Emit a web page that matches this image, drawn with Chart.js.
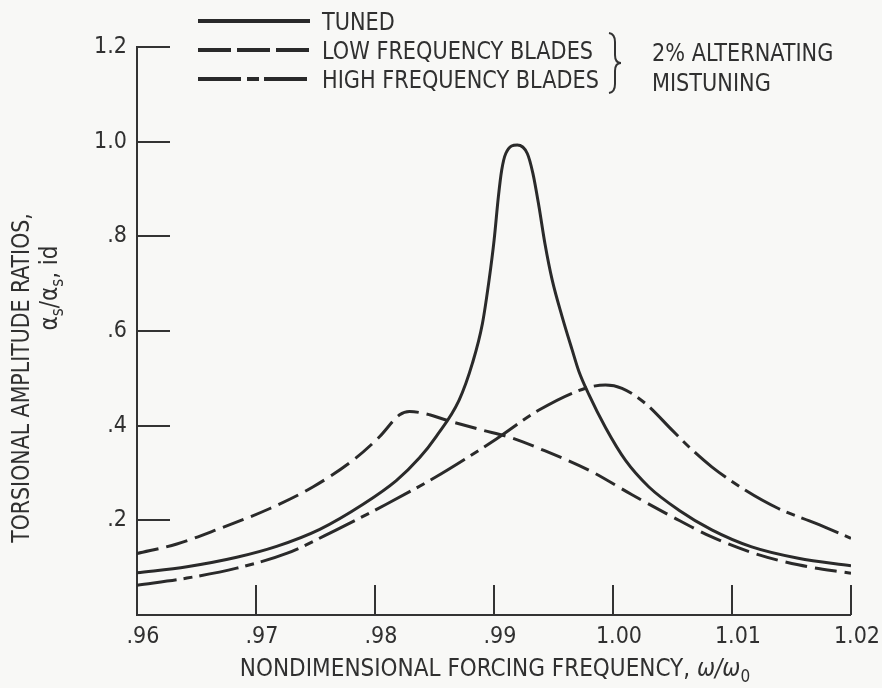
<!DOCTYPE html>
<html><head><meta charset="utf-8">
<script src="https://cdn.jsdelivr.net/npm/chart.js@4"></script>
<style>html,body{margin:0;padding:0;background:#f8f8f6;} canvas{display:block;}</style>
</head><body>
<canvas id="c" width="882" height="688"></canvas>
<script>
// ---- data ----
const tunedX = [0.96, 0.9642, 0.96838, 0.97173, 0.97536, 0.979, 0.98179, 0.98374, 0.98514, 0.98707, 0.98819, 0.98903, 0.98959, 0.99001, 0.99037, 0.99065, 0.99099, 0.99196, 0.9928, 0.99327, 0.99378, 0.99428, 0.99489, 0.99573, 0.99657, 0.99713, 0.99797, 0.99937, 1.00104, 1.003, 1.00551, 1.0083, 1.01166, 1.01557, 1.02];
const tunedY = [0.089, 0.102, 0.122, 0.145, 0.181, 0.234, 0.284, 0.332, 0.377, 0.454, 0.532, 0.616, 0.708, 0.792, 0.884, 0.940, 0.975, 0.993, 0.975, 0.933, 0.863, 0.785, 0.708, 0.630, 0.560, 0.515, 0.466, 0.396, 0.327, 0.271, 0.222, 0.180, 0.144, 0.120, 0.104];
const lowX = [0.96, 0.96335, 0.96698, 0.97117, 0.97481, 0.97816, 0.9804, 0.98207, 0.9829, 0.98459, 0.9857, 0.9888, 0.9915, 0.99378, 0.99797, 1.0016, 1.00495, 1.0083, 1.0119, 1.01557, 1.02];
const lowY = [0.130, 0.150, 0.183, 0.225, 0.271, 0.327, 0.377, 0.423, 0.430, 0.423, 0.414, 0.392, 0.374, 0.352, 0.306, 0.254, 0.208, 0.165, 0.130, 0.106, 0.088];
const highX = [0.96, 0.9642, 0.96838, 0.97257, 0.97676, 0.98095, 0.98514, 0.9878, 0.9902, 0.99378, 0.99769, 0.99937, 1.00076, 1.00272, 1.00495, 1.00635, 1.0083, 1.0111, 1.0139, 1.017, 1.02];
const highY = [0.063, 0.078, 0.099, 0.130, 0.180, 0.234, 0.292, 0.333, 0.372, 0.433, 0.479, 0.486, 0.479, 0.447, 0.391, 0.356, 0.313, 0.264, 0.225, 0.194, 0.162];

const xTickValues = [0.96, 0.97, 0.98, 0.99, 1.00, 1.01, 1.02];
const xTickLabels = ['.96', '.97', '.98', '.99', '1.00', '1.01', '1.02'];
const yTickValues = [0, 0.2, 0.4, 0.6, 0.8, 1.0, 1.2];
const yTickLabels = ['', '.2', '.4', '.6', '.8', '1.0', '1.2'];

const seriesNames = ['TUNED', 'LOW FREQUENCY BLADES', 'HIGH FREQUENCY BLADES'];
const noteLines = ['2% ALTERNATING', 'MISTUNING'];
const yTitleLine1 = 'TORSIONAL AMPLITUDE RATIOS,';
const xTitleText = 'NONDIMENSIONAL FORCING FREQUENCY, ';

// ---- styling ----
const FONT = '"DejaVu Sans Condensed","Liberation Sans Narrow",sans-serif';
const INK = '#2a2a2a';
const TXT = '#303030';

const pts = (xs, ys) => xs.map((x, i) => ({ x, y: ys[i] }));

// draw text with horizontal compression sx, anchored at left (x) on given baseline
function squeezeText(ctx, txt, x, y, sx) {
  ctx.save();
  ctx.translate(x, y);
  ctx.scale(sx, 1);
  ctx.fillText(txt, 0, 0);
  ctx.restore();
  return ctx.measureText(txt).width * sx;
}

const decor = {
  id: 'decor',
  afterDraw(chart) {
    const ctx = chart.ctx;
    const xs = chart.scales.x, ys = chart.scales.y;
    const area = chart.chartArea;
    ctx.save();
    // inner tick marks
    ctx.strokeStyle = '#333';
    ctx.lineWidth = 2;
    ctx.setLineDash([]);
    xTickValues.forEach((v, i) => {
      if (i === 0) return;
      const px = Math.round(xs.getPixelForValue(v));
      ctx.beginPath(); ctx.moveTo(px, area.bottom); ctx.lineTo(px, area.bottom - 30); ctx.stroke();
    });
    yTickValues.forEach((v, i) => {
      if (i === 0) return;
      const py = Math.round(ys.getPixelForValue(v));
      ctx.beginPath(); ctx.moveTo(area.left, py); ctx.lineTo(area.left + 33, py); ctx.stroke();
    });

    // legend
    const rows = [21, 50, 79];
    const legendDash = [[], [33, 6], [43, 6, 12, 5]];
    chart.data.datasets.forEach((ds, i) => {
      ctx.strokeStyle = INK; ctx.lineWidth = 4;
      ctx.setLineDash(legendDash[i]);
      ctx.beginPath(); ctx.moveTo(198, rows[i]); ctx.lineTo(310, rows[i]); ctx.stroke();
      ctx.setLineDash([]);
      ctx.fillStyle = TXT; ctx.font = '24px ' + FONT;
      ctx.textBaseline = 'alphabetic'; ctx.textAlign = 'left';
      squeezeText(ctx, ds.label, 322, rows[i] + 9, 0.965);
    });
    // brace
    ctx.strokeStyle = '#333'; ctx.lineWidth = 2;
    ctx.beginPath();
    ctx.moveTo(609, 33);
    ctx.quadraticCurveTo(615, 34, 615, 42);
    ctx.lineTo(615, 55);
    ctx.quadraticCurveTo(615, 63, 621, 63);
    ctx.quadraticCurveTo(615, 63, 615, 71);
    ctx.lineTo(615, 84);
    ctx.quadraticCurveTo(615, 92, 609, 93);
    ctx.stroke();
    ctx.fillStyle = TXT; ctx.font = '24px ' + FONT;
    squeezeText(ctx, noteLines[0], 652, 61, 0.965);
    squeezeText(ctx, noteLines[1], 652, 91, 0.965);

    // y-axis title
    ctx.save();
    ctx.translate(29, 378);
    ctx.rotate(-Math.PI / 2);
    ctx.textBaseline = 'alphabetic'; ctx.textAlign = 'left';
    ctx.font = '24px ' + FONT;
    const w1 = ctx.measureText(yTitleLine1).width * 0.95;
    squeezeText(ctx, yTitleLine1, -w1 / 2, 0, 0.95);
    ctx.restore();

    ctx.save();
    ctx.translate(57, 288);
    ctx.rotate(-Math.PI / 2);
    ctx.textBaseline = 'alphabetic'; ctx.textAlign = 'left';
    const big = '24px ' + FONT, small = '17px ' + FONT;
    const parts = [['α', big, 0], ['s', small, 6], ['/', big, 0], ['α', big, 0], ['s', small, 6], [', id', big, 0]];
    let w = 0;
    parts.forEach(p => { ctx.font = p[1]; w += ctx.measureText(p[0]).width; });
    let cx = -w / 2;
    parts.forEach(p => { ctx.font = p[1]; ctx.fillText(p[0], cx, p[2]); cx += ctx.measureText(p[0]).width; });
    ctx.restore();

    // x-axis title
    ctx.save();
    ctx.textBaseline = 'alphabetic'; ctx.textAlign = 'left';
    const xparts = [[xTitleText, '24px ' + FONT, 0], ['ω/ω', 'italic 24px ' + FONT, 0], ['0', '17px ' + FONT, 6]];
    let xw = 0;
    xparts.forEach(p => { ctx.font = p[1]; xw += ctx.measureText(p[0]).width; });
    let xx = 495 - xw / 2;
    xparts.forEach(p => { ctx.font = p[1]; ctx.fillText(p[0], xx, 676 + p[2]); xx += ctx.measureText(p[0]).width; });
    ctx.restore();

    ctx.restore();
  }
};

const lineBase = { borderColor: INK, borderWidth: 3, pointRadius: 0, fill: false, cubicInterpolationMode: 'monotone' };

new Chart(document.getElementById('c'), {
  type: 'line',
  data: {
    datasets: [
      Object.assign({ label: seriesNames[0], data: pts(tunedX, tunedY) }, lineBase),
      Object.assign({ label: seriesNames[1], data: pts(lowX, lowY), borderDash: [22, 8] }, lineBase),
      Object.assign({ label: seriesNames[2], data: pts(highX, highY), borderDash: [40, 7, 9, 7] }, lineBase)
    ]
  },
  options: {
    responsive: false, animation: false, devicePixelRatio: 1,
    layout: { padding: { top: 47, right: 30, left: 0, bottom: 0 } },
    plugins: { legend: { display: false }, tooltip: { enabled: false } },
    scales: {
      x: {
        type: 'linear', min: 0.96, max: 1.02,
        afterBuildTicks: s => { s.ticks = xTickValues.map(v => ({ value: v })); },
        ticks: { callback: (v, i) => xTickLabels[i], font: { family: FONT, size: 23 }, color: TXT, padding: 8, labelOffset: 6, maxRotation: 0, autoSkip: false },
        grid: { display: false, drawTicks: false },
        border: { display: true, color: '#333', width: 2 },
        afterFit: s => { s.height = 73; }
      },
      y: {
        type: 'linear', min: 0, max: 1.2,
        afterBuildTicks: s => { s.ticks = yTickValues.map(v => ({ value: v })); },
        ticks: { callback: (v, i) => yTickLabels[i], font: { family: FONT, size: 23 }, color: TXT, padding: 10, autoSkip: false },
        grid: { display: false, drawTicks: false },
        border: { display: true, color: '#333', width: 2 },
        afterFit: s => { s.width = 137; }
      }
    }
  },
  plugins: [decor]
});
</script>
</body></html>
